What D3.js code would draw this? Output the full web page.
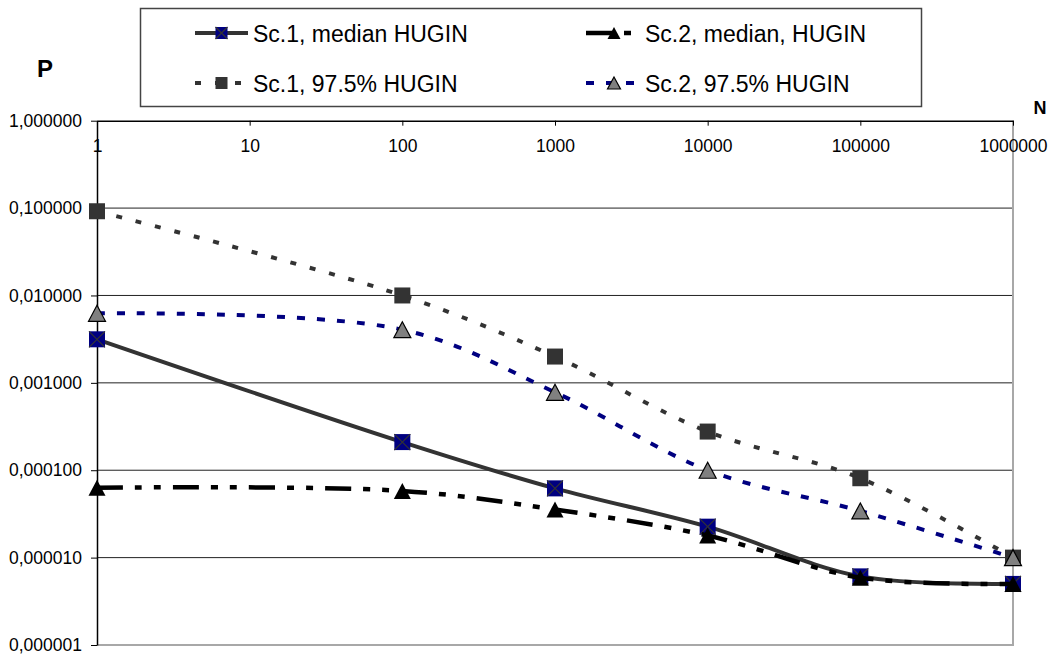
<!DOCTYPE html>
<html>
<head>
<meta charset="utf-8">
<script src="https://cdn.jsdelivr.net/npm/d3@7"></script>
<style>
  body { margin: 0; background: #fff; }
  svg { display: block; font-family: "Liberation Sans", Arial, sans-serif; }
</style>
</head>
<body>
<div id="chart"></div>
<script>
// N values on the x axis (log)
var nValues = [1, 100, 1000, 10000, 100000, 1000000];

// series, P
var sc1Median = [0.00315, 0.00021, 0.000062, 0.0000226, 0.0000061, 0.000005];
var sc2Median = [0.000063, 0.000058, 0.0000355, 0.0000179, 0.0000059, 0.000005];
var sc1P975   = [0.092, 0.01, 0.002, 0.000277, 0.000081, 0.00001];
var sc2P975   = [0.00625, 0.00406, 0.00078, 0.0001, 0.0000342, 0.00001];

var seriesNames = ["Sc.1, median HUGIN", "Sc.2, median, HUGIN", "Sc.1, 97.5% HUGIN", "Sc.2, 97.5% HUGIN"];

var xTicks = [1, 10, 100, 1000, 10000, 100000, 1000000];
var yTicks = [1, 0.1, 0.01, 0.001, 0.0001, 0.00001, 0.000001];

var width = 1051,
    height = 655,
    plot = {left: 97, right: 1013, top: 120.7, bottom: 645};

var svg = d3.select("#chart").append("svg")
    .attr("width", width)
    .attr("height", height);

var x = d3.scaleLog().domain([1, 1000000]).range([plot.left, plot.right]);
var y = d3.scaleLog().domain([0.000001, 1]).range([plot.bottom, plot.top]);

var comma = d3.formatLocale({decimal: ",", thousands: ".", grouping: [3], currency: ["", ""]}).format(".6f");

// gridlines
svg.append("g")
    .selectAll("line")
    .data(yTicks.slice(1, -1))
    .enter().append("line")
    .attr("x1", plot.left).attr("x2", plot.right)
    .attr("y1", d => y(d)).attr("y2", d => y(d))
    .attr("stroke", "#222")
    .attr("stroke-width", 1);

// plot border right / bottom (grey)
svg.append("path")
    .attr("d", "M" + plot.right + "," + plot.top + "V" + plot.bottom + "H" + plot.left)
    .attr("fill", "none")
    .attr("stroke", "#a8a8a8")
    .attr("stroke-width", 2);

// x axis along the top, labels below the line
var xAxis = svg.append("g")
    .attr("transform", "translate(0," + plot.top + ")")
    .call(d3.axisBottom(x).tickValues(xTicks).tickFormat(d3.format("d")).tickSize(5).tickPadding(14).tickSizeOuter(0));
xAxis.select(".domain").attr("stroke", "#000").attr("stroke-width", 1.5);
xAxis.selectAll("text").attr("font-size", "17.5px").attr("fill", "#000").attr("font-family", null);

var yAxis = svg.append("g")
    .attr("transform", "translate(" + plot.left + ",0)")
    .call(d3.axisLeft(y).tickValues(yTicks).tickFormat(comma).tickSize(6).tickPadding(9).tickSizeOuter(0));
yAxis.select(".domain").attr("stroke", "#000").attr("stroke-width", 1.5);
yAxis.selectAll("text").attr("font-size", "17.5px").attr("fill", "#000").attr("font-family", null);

// axis titles
svg.append("text").attr("x", 45).attr("y", 76.5)
    .attr("text-anchor", "middle").attr("font-weight", "bold").attr("font-size", "24px").text("P");
svg.append("text").attr("x", 1040).attr("y", 113.5)
    .attr("text-anchor", "middle").attr("font-weight", "bold").attr("font-size", "18px").text("N");

// series styling
var series = [
  {name: seriesNames[0], values: sc1Median, color: "#333333", width: 4, dash: null, marker: "squareX", fill: "#000080"},
  {name: seriesNames[1], values: sc2Median, color: "#000000", width: 4.5, dash: "26,12,7,12,7,12", marker: "triangle", fill: "#000000"},
  {name: seriesNames[2], values: sc1P975, color: "#333333", width: 4, dash: "6,14", marker: "square", fill: "#333333"},
  {name: seriesNames[3], values: sc2P975, color: "#000080", width: 4, dash: "8,12", marker: "triangle", fill: "#808080"}
];

var line = d3.line()
    .x(d => x(d[0]))
    .y(d => y(d[1]))
    .curve(d3.curveCatmullRom.alpha(0.5));

function drawMarker(g, type, fill, s) {
  var h = s / 2;
  if (type === "triangle") {
    g.append("path")
      .attr("d", "M0," + (-h) + "L" + (h + 0.5) + "," + h + "L" + (-h - 0.5) + "," + h + "Z")
      .attr("fill", fill)
      .attr("stroke", "#000")
      .attr("stroke-width", fill === "#000000" ? 0 : 1.2);
  } else {
    g.append("rect")
      .attr("x", -h).attr("y", -h).attr("width", s).attr("height", s)
      .attr("fill", fill);
    if (type === "squareX") {
      g.append("path")
        .attr("d", "M" + (-h) + "," + (-h) + "L" + h + "," + h + "M" + h + "," + (-h) + "L" + (-h) + "," + h)
        .attr("stroke", "#333").attr("stroke-width", 1.2);
    }
  }
}

series.forEach(function(s) {
  var pts = nValues.map((n, i) => [n, s.values[i]]);
  svg.append("path")
    .attr("d", line(pts))
    .attr("fill", "none")
    .attr("stroke", s.color)
    .attr("stroke-width", s.width)
    .attr("stroke-dasharray", s.dash);
  pts.forEach(function(p) {
    var g = svg.append("g").attr("transform", "translate(" + x(p[0]) + "," + y(p[1]) + ")");
    drawMarker(g, s.marker, s.fill, 16);
  });
});

// legend
var legend = svg.append("g");
legend.append("rect")
    .attr("x", 140.5).attr("y", 8.5).attr("width", 781).attr("height", 98)
    .attr("fill", "#fff").attr("stroke", "#444").attr("stroke-width", 1.5);

var legendPos = [
  {x0: 195, x1: 248, tx: 253, y: 33},
  {x0: 586, x1: 642, tx: 645, y: 33},
  {x0: 195, x1: 248, tx: 253, y: 83},
  {x0: 586, x1: 642, tx: 645, y: 83}
];

series.forEach(function(s, i) {
  var p = legendPos[i];
  legend.append("line")
    .attr("x1", p.x0).attr("x2", p.x1).attr("y1", p.y).attr("y2", p.y)
    .attr("stroke", s.color).attr("stroke-width", s.width)
    .attr("stroke-dasharray", s.dash);
  var g = legend.append("g").attr("transform", "translate(" + ((p.x0 + p.x1) / 2) + "," + p.y + ")");
  drawMarker(g, s.marker, s.fill, 12);
  legend.append("text")
    .attr("x", p.tx).attr("y", p.y + 9)
    .attr("font-size", "23px")
    .text(s.name);
});
</script>
</body>
</html>
